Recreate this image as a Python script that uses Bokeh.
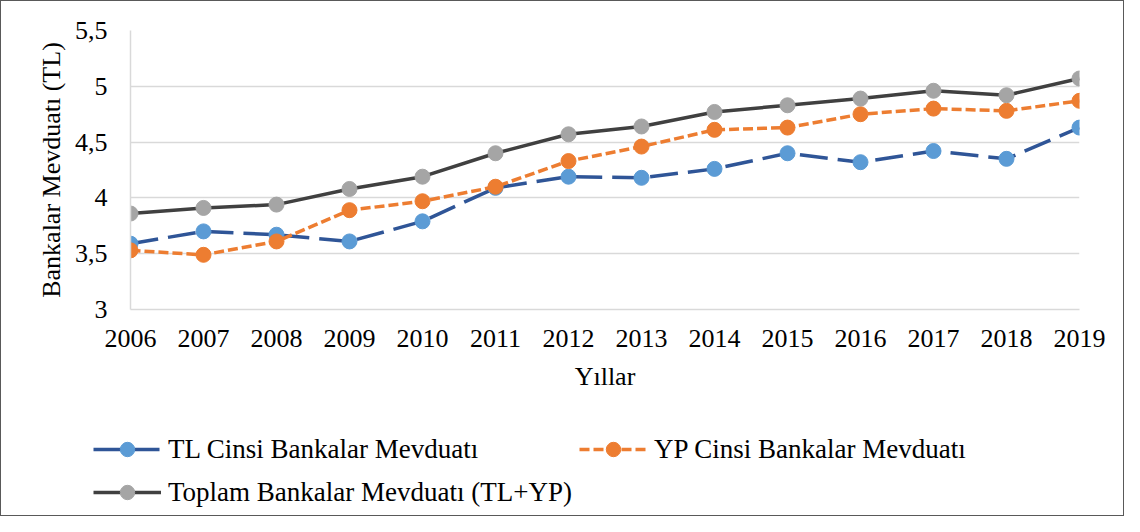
from bokeh.plotting import figure
from bokeh.layouts import column
from bokeh.models import (Range1d, FixedTicker, CustomJSTickFormatter, Legend, LegendItem)
from bokeh.embed import file_html
from bokeh.resources import INLINE

years = [2006, 2007, 2008, 2009, 2010, 2011, 2012, 2013, 2014, 2015, 2016, 2017, 2018, 2019]
tl = [3.59, 3.70, 3.67, 3.61, 3.79, 4.09, 4.19, 4.18, 4.26, 4.40, 4.32, 4.42, 4.35, 4.63]
yp = [3.53, 3.49, 3.61, 3.89, 3.97, 4.10, 4.33, 4.46, 4.61, 4.63, 4.75, 4.80, 4.78, 4.87]
toplam = [3.86, 3.91, 3.94, 4.08, 4.19, 4.40, 4.57, 4.64, 4.77, 4.83, 4.89, 4.96, 4.92, 5.07]
y_ticks = [3, 3.5, 4, 4.5, 5, 5.5]
names = ["TL Cinsi Bankalar Mevduatı", "YP Cinsi Bankalar Mevduatı",
         "Toplam Bankalar Mevduatı (TL+YP)"]

FONT = "Liberation Serif"
FS = "26px"
W = 1122

p = figure(width=W, height=410, output_backend="svg", toolbar_location=None,
           x_range=Range1d(2006, 2019), y_range=Range1d(3, 5.5),
           min_border_left=129, min_border_right=44, min_border_top=29, min_border_bottom=102)
p.frame_align = False
p.outline_line_color = None
p.background_fill_color = "white"
p.border_fill_color = "white"

p.xgrid.grid_line_color = None
p.ygrid.grid_line_color = "#D9D9D9"
p.ygrid.grid_line_width = 1.5
p.ygrid.ticker = FixedTicker(ticks=y_ticks)

p.xaxis.ticker = FixedTicker(ticks=years)
p.yaxis.ticker = FixedTicker(ticks=y_ticks)
p.yaxis.formatter = CustomJSTickFormatter(code="return tick.toString().replace('.', ',');")
for ax in (p.xaxis[0], p.yaxis[0]):
    ax.axis_line_color = "#D9D9D9"
    ax.axis_line_width = 1.5
    ax.major_tick_line_color = None
    ax.minor_tick_line_color = None
    ax.major_label_text_font = FONT
    ax.major_label_text_font_size = FS
    ax.major_label_text_color = "black"
    ax.axis_label_text_font = FONT
    ax.axis_label_text_font_size = FS
    ax.axis_label_text_font_style = "normal"
    ax.axis_label_text_color = "black"
p.xaxis.axis_label = "Yıllar"
p.yaxis.axis_label = "Bankalar Mevduatı (TL)"
p.xaxis.major_label_standoff = 14
p.xaxis.axis_label_standoff = 12
p.yaxis.major_label_standoff = 17
p.yaxis.axis_label_standoff = 6

series = [
    (tl, "#2F5597", "#5B9BD5", "28 10"),
    (yp, "#ED7D31", "#ED7D31", "10 4"),
    (toplam, "#404040", "#A5A5A5", "solid"),
]
for vals, lc, mc, dash in series:
    p.line(years, vals, line_color=lc, line_width=3.5, line_dash=dash)
    p.scatter(years, vals, size=15, fill_color=mc, line_color=mc)

# legend panel below the chart (its renderers lie outside its visible range)
pl = figure(width=W, height=104, output_backend="svg", toolbar_location=None,
            x_range=Range1d(0, 1), y_range=Range1d(0, 1),
            min_border_left=0, min_border_right=0, min_border_top=0, min_border_bottom=0)
pl.frame_align = False
pl.xaxis.visible = False
pl.yaxis.visible = False
pl.grid.grid_line_color = None
pl.outline_line_color = None
pl.background_fill_color = "white"
pl.border_fill_color = "white"

items = []
for (vals, lc, mc, dash), name in zip(series, names):
    l = pl.line(years, vals, line_color=lc, line_width=3.5, line_dash=dash)
    s = pl.scatter(years, vals, size=15, fill_color=mc, line_color=mc)
    items.append(LegendItem(label=name, renderers=[l, s]))

legend = Legend(items=items, orientation="horizontal", ncols=2,
                location=(92, 5), padding=0, margin=0, spacing=7,
                glyph_width=68, glyph_height=36, label_height=36, label_standoff=7,
                label_text_font=FONT, label_text_font_size="27px", label_text_color="black",
                border_line_color=None, background_fill_alpha=0)
pl.add_layout(legend, "center")

layout = column(p, pl, spacing=0)
layout.styles = {"border": "1px solid #595959"}

open("out.html", "w").write(file_html(layout, INLINE))
